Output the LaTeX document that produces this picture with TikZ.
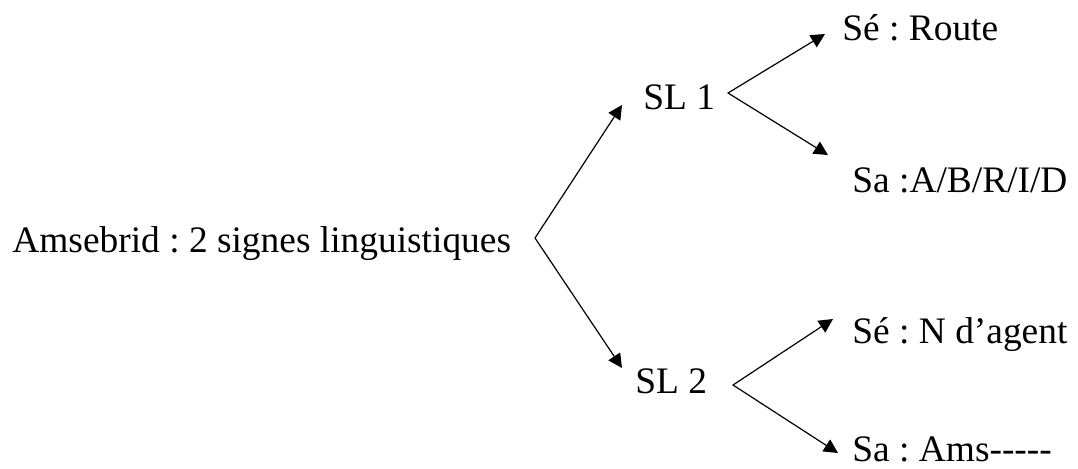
\documentclass[tikz,border=0pt]{standalone}
\usepackage{fontspec}
\setmainfont{Liberation Serif}
\frenchspacing
\usetikzlibrary{arrows.meta, calc}
\tikzset{
  >={Triangle[length=7pt, width=7pt]},
  every picture/.style={line cap=round, line join=round},
  lbl/.style={anchor=base west, inner sep=0pt, font=\fontsize{18.7}{22}\selectfont},
  branch/.style={->, line width=0.6pt},
}
\begin{document}
\begin{tikzpicture}[x=0.5pt, y=-0.5pt]
  \useasboundingbox (0,0) rectangle (1078,468);
  % words
  \node[lbl] (word) at (12,252) {Amsebrid : 2 signes linguistiques};
  \node[lbl] (sl1) at (643,109) {SL 1};
  \node[lbl] (sl2) at (635,393) {SL 2};
  \node[lbl] (se1) at (842,40) {Sé : Route};
  \node[lbl] (sa1) at (852,192) {Sa :A/B/R/I/D};
  \node[lbl] (se2) at (852,343) {Sé : N d’agent};
  \node[lbl] (sa2) at (852,461) {Sa : Ams-{}-{}-{}-{}-};
  % fork points
  \coordinate (f0) at (535,238);
  \coordinate (f1) at (728,93);
  \coordinate (f2) at (733,385);
  % branches
  \draw[branch] (f0) -- ($(sl1.base west)+(-21,-4)$);
  \draw[branch] (f0) -- ($(sl2.base west)+(-13,-25)$);
  \draw[branch] (f1) -- ($(se1.base west)+(-17,-6)$);
  \draw[branch] (f1) -- ($(sa1.base west)+(-24,-37)$);
  \draw[branch] (f2) -- ($(se2.base west)+(-19,-24)$);
  \draw[branch] (f2) -- ($(sa2.base west)+(-14,-8)$);
\end{tikzpicture}
\end{document}
